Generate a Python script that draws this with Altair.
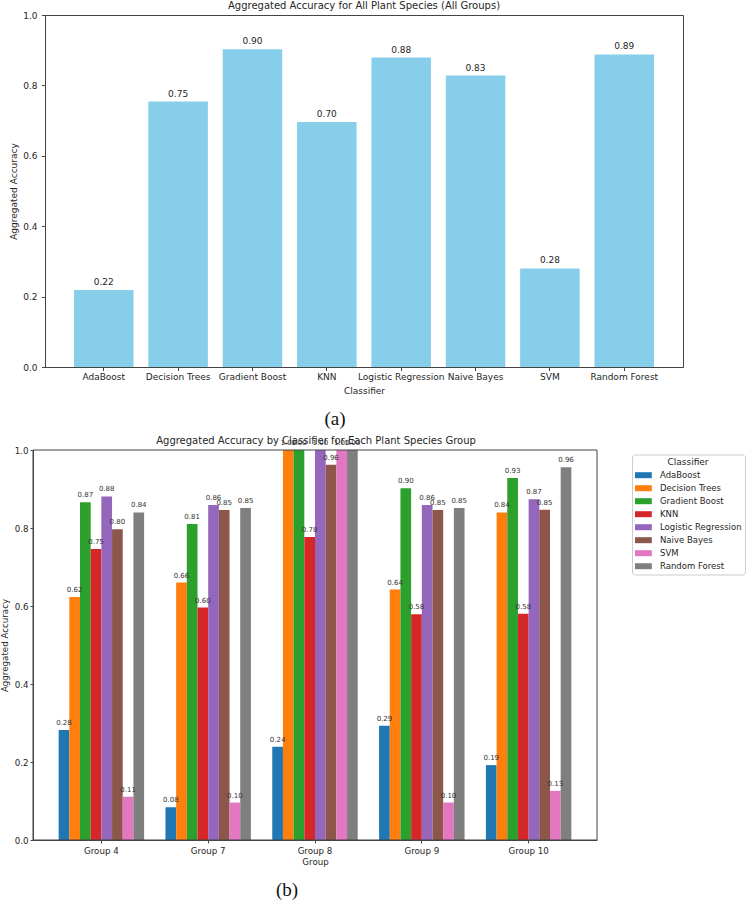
import altair as alt
import pandas as pd

# ---------------- data ----------------
classifiers = ["AdaBoost", "Decision Trees", "Gradient Boost", "KNN",
               "Logistic Regression", "Naive Bayes", "SVM", "Random Forest"]
overall_acc = [0.219, 0.754, 0.903, 0.696, 0.879, 0.828, 0.280, 0.888]

groups = ["Group 4", "Group 7", "Group 8", "Group 9", "Group 10"]
acc_adaboost = [0.282, 0.084, 0.239, 0.293, 0.192]
acc_decision_trees = [0.623, 0.660, 1.000, 0.642, 0.840]
acc_gradient_boost = [0.866, 0.810, 1.000, 0.902, 0.928]
acc_knn = [0.746, 0.596, 0.777, 0.579, 0.580]
acc_logistic = [0.881, 0.859, 1.000, 0.859, 0.874]
acc_naive_bayes = [0.797, 0.846, 0.962, 0.846, 0.847]
acc_svm = [0.111, 0.096, 1.000, 0.096, 0.126]
acc_random_forest = [0.840, 0.851, 1.000, 0.851, 0.956]

tab10 = ["#1f77b4", "#ff7f0e", "#2ca02c", "#d62728",
         "#9467bd", "#8c564b", "#e377c2", "#7f7f7f"]

title_a = "Aggregated Accuracy for All Plant Species (All Groups)"
title_b = "Aggregated Accuracy by Classifier for Each Plant Species Group"

FONT = "DejaVu Sans"
TXT = "#262626"
AX = "#444444"
one = pd.DataFrame({"k": [0]})

# ---------------- chart (a) ----------------
df_a = pd.DataFrame({"Classifier": classifiers, "Accuracy": overall_acc})

xa = alt.X("Classifier:N", sort=classifiers,
           scale=alt.Scale(paddingInner=0.2, paddingOuter=0.39),
           axis=alt.Axis(title="Classifier", labelAngle=0, labelOverlap=False,
                         tickSize=3.5, labelPadding=2, titlePadding=5,
                         labelFontSize=9, titleFontSize=9, titleFontWeight="normal",
                         labelColor=TXT, titleColor=TXT, domainColor=AX, tickColor=AX))
ya = alt.Y("Accuracy:Q", scale=alt.Scale(domain=[0, 1], nice=False),
           axis=alt.Axis(title="Aggregated Accuracy", values=[0, 0.2, 0.4, 0.6, 0.8, 1.0],
                         format=".1f", grid=False, tickSize=3.5, labelPadding=4.5,
                         titlePadding=5, minExtent=22, maxExtent=22,
                         labelFontSize=9, titleFontSize=9, titleFontWeight="normal",
                         labelColor=TXT, titleColor=TXT, domainColor=AX, tickColor=AX))

bars_a = alt.Chart(df_a).mark_bar(color="#87CEEB").encode(x=xa, y=ya)
text_a = alt.Chart(df_a).mark_text(baseline="bottom", dy=-3, fontSize=9, color=TXT).encode(
    x=alt.X("Classifier:N", sort=classifiers),
    y=alt.Y("Accuracy:Q"),
    text=alt.Text("Accuracy:Q", format=".2f"))
ttl_a = alt.Chart(pd.DataFrame({"t": [title_a]})).mark_text(
    fontSize=10, color=TXT, align="center", baseline="middle"
).encode(x=alt.value(319), y=alt.value(-9), text="t:N")
lab_a = alt.Chart(pd.DataFrame({"t": ["(a)"]})).mark_text(
    font="Liberation Serif", fontSize=19, color="#111111", align="center", baseline="middle"
).encode(x=alt.value(290), y=alt.value(404), text="t:N")

chart_a = alt.layer(bars_a, text_a, ttl_a, lab_a).properties(width=638, height=352)

# ---------------- chart (b) ----------------
# (b)'s plot starts 12px left of (a)'s plot: range and axis offset handle that
series = [acc_adaboost, acc_decision_trees, acc_gradient_boost, acc_knn,
          acc_logistic, acc_naive_bayes, acc_svm, acc_random_forest]
rows = []
for c, vals in zip(classifiers, series):
    for g, v in zip(groups, vals):
        rows.append({"Group": g, "Classifier": c, "Accuracy": v})
df_b = pd.DataFrame(rows)

xb = alt.X("Group:N", sort=groups,
           scale=alt.Scale(range=[-12, 552], paddingInner=0.2, paddingOuter=0.24),
           axis=alt.Axis(title="Group", labelAngle=0, tickSize=3, labelPadding=3.5,
                         titlePadding=2, labelFontSize=8.7, titleFontSize=8.7,
                         titleFontWeight="normal", labelColor=TXT, titleColor=TXT,
                         domainColor=AX, tickColor=AX))
xo = alt.XOffset("Classifier:N", sort=classifiers,
                 scale=alt.Scale(domain=classifiers, paddingInner=0, paddingOuter=0))
yb = alt.Y("Accuracy:Q", scale=alt.Scale(domain=[0, 1], nice=False),
           axis=alt.Axis(title="Aggregated Accuracy", values=[0, 0.2, 0.4, 0.6, 0.8, 1.0],
                         format=".1f", grid=False, tickSize=3, labelPadding=2, offset=12,
                         titlePadding=4, minExtent=20, maxExtent=20,
                         labelFontSize=8.7, titleFontSize=8.7, titleFontWeight="normal",
                         labelColor=TXT, titleColor=TXT, domainColor=AX, tickColor=AX))
color_b = alt.Color("Classifier:N", sort=classifiers,
                    scale=alt.Scale(domain=classifiers, range=tab10),
                    legend=alt.Legend(title="Classifier", orient="none", legendX=587, legendY=4.5,
                                      titleAnchor="middle", titleFontSize=9,
                                      titleFontWeight="normal", titleColor=TXT,
                                      titlePadding=2.7, labelFontSize=8.5, labelColor=TXT,
                                      symbolType="M-1,-0.5L1.8,-0.5L1.8,0.5L-1,0.5Z",
                                      symbolSize=144, symbolStrokeWidth=0,
                                      labelOffset=13, rowPadding=2, padding=3,
                                      strokeColor="#cccccc", fillColor="white",
                                      cornerRadius=3))

bars_b = alt.Chart(df_b).mark_bar().encode(x=xb, xOffset=xo, y=yb, color=color_b)
text_b = alt.Chart(df_b).mark_text(baseline="bottom", dy=-4, fontSize=7, color="#333333").encode(
    x=alt.X("Group:N", sort=groups), xOffset=xo, y=alt.Y("Accuracy:Q"),
    text=alt.Text("Accuracy:Q", format=".2f"))
frame_b = alt.Chart(one).mark_rect(fillOpacity=0, stroke=AX, strokeWidth=1).encode(
    x=alt.value(-12), x2=alt.value(552), y=alt.value(0), y2=alt.value(390))
ttl_b = alt.Chart(pd.DataFrame({"t": [title_b]})).mark_text(
    fontSize=10, color=TXT, align="center", baseline="middle"
).encode(x=alt.value(271), y=alt.value(-8.8), text="t:N")
lab_b = alt.Chart(pd.DataFrame({"t": ["(b)"]})).mark_text(
    font="Liberation Serif", fontSize=19, color="#111111", align="center", baseline="middle"
).encode(x=alt.value(242), y=alt.value(439.5), text="t:N")

chart_b = alt.layer(bars_b, frame_b, ttl_b, text_b, lab_b).properties(
    width=540, height=390, view=alt.ViewBackground(strokeWidth=0))

chart = alt.vconcat(chart_a, chart_b, spacing=6).resolve_scale(
    color="independent").resolve_legend(color="independent").properties(
    padding={"left": 0, "top": 0, "right": 0, "bottom": 0}
).configure(font=FONT).configure_view(stroke=AX, strokeWidth=1)

chart.save("out.html", embed_options={"renderer": "svg", "actions": False})
